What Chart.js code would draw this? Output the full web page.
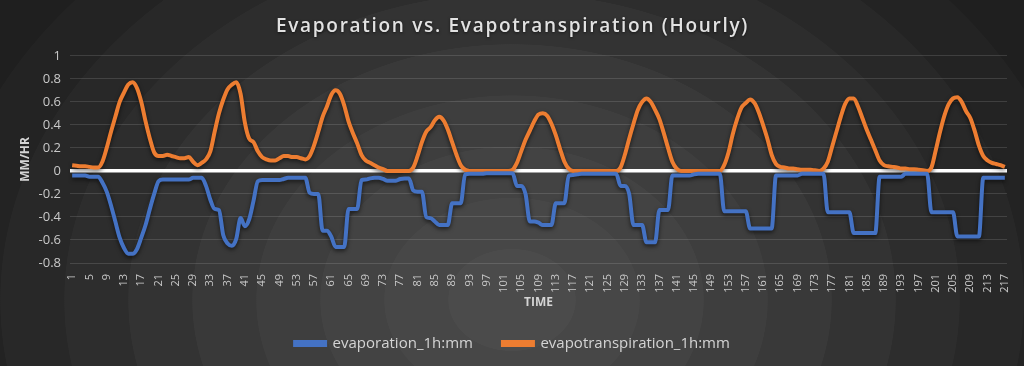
<!DOCTYPE html>
<html lang="en">
<head>
  <meta charset="UTF-8">
  <title>Evaporation vs. Evapotranspiration (Hourly)</title>
  <script src="https://cdn.jsdelivr.net/npm/chart.js"></script>
  <style>
    html, body { margin: 0; padding: 0; background: #262626; }
    #grafica { display: block; }
  </style>
</head>
<body>
  <canvas id="grafica" width="1024" height="366"></canvas>
  <script>
    // Horas (categorías del eje X)
    const horas = Array.from({ length: 217 }, (_, i) => String(i + 1));

    const evaporacion = [
      -0.04, -0.04, -0.04, -0.04, -0.05, -0.05, -0.05, -0.1, -0.18, -0.3,
      -0.44, -0.58, -0.67, -0.72, -0.72, -0.68, -0.58, -0.47, -0.33, -0.2,
      -0.09, -0.075, -0.075, -0.075, -0.075, -0.075, -0.075, -0.075, -0.06, -0.06,
      -0.06, -0.13, -0.25, -0.33, -0.34, -0.56, -0.63, -0.65, -0.59, -0.41,
      -0.48, -0.42, -0.26, -0.09, -0.08, -0.08, -0.08, -0.08, -0.08, -0.07,
      -0.06, -0.06, -0.06, -0.06, -0.06, -0.19, -0.2, -0.2, -0.52, -0.52,
      -0.57, -0.66, -0.66, -0.66, -0.33, -0.33, -0.33, -0.08, -0.075, -0.065,
      -0.06, -0.06, -0.07, -0.085, -0.085, -0.085, -0.07, -0.065, -0.065, -0.17,
      -0.18, -0.18, -0.4, -0.41, -0.44, -0.47, -0.47, -0.47, -0.28, -0.28,
      -0.28, -0.03, -0.025, -0.025, -0.025, -0.025, -0.02, -0.02, -0.02, -0.02,
      -0.02, -0.02, -0.02, -0.13, -0.13, -0.2, -0.44, -0.44, -0.45, -0.47,
      -0.47, -0.47, -0.28, -0.28, -0.28, -0.04, -0.035, -0.03, -0.025, -0.025,
      -0.025, -0.025, -0.025, -0.025, -0.025, -0.025, -0.025, -0.13, -0.13, -0.2,
      -0.47, -0.47, -0.47, -0.62, -0.62, -0.62, -0.34, -0.34, -0.34, -0.04,
      -0.04, -0.04, -0.04, -0.04, -0.03, -0.025, -0.025, -0.025, -0.025, -0.025,
      -0.025, -0.35, -0.35, -0.35, -0.35, -0.35, -0.35, -0.5, -0.5, -0.5,
      -0.5, -0.5, -0.5, -0.04, -0.04, -0.04, -0.04, -0.04, -0.04, -0.025,
      -0.025, -0.025, -0.025, -0.025, -0.025, -0.36, -0.36, -0.36, -0.36, -0.36,
      -0.36, -0.54, -0.54, -0.54, -0.54, -0.54, -0.54, -0.05, -0.05, -0.05,
      -0.05, -0.05, -0.05, -0.025, -0.025, -0.025, -0.025, -0.025, -0.025, -0.36,
      -0.36, -0.36, -0.36, -0.36, -0.36, -0.57, -0.57, -0.57, -0.57, -0.57,
      -0.57, -0.06, -0.06, -0.06, -0.06, -0.06, -0.06
    ];

    const evapotranspiracion = [
      0.05, 0.045, 0.04, 0.04, 0.035, 0.03, 0.03, 0.08, 0.2, 0.34,
      0.47, 0.6, 0.68, 0.75, 0.77, 0.72, 0.6, 0.43, 0.28, 0.16,
      0.13, 0.13, 0.14, 0.13, 0.12, 0.11, 0.11, 0.12, 0.08, 0.05,
      0.07, 0.1, 0.17, 0.34, 0.5, 0.62, 0.71, 0.75, 0.77, 0.67,
      0.42, 0.28, 0.25, 0.17, 0.12, 0.1, 0.09, 0.09, 0.11, 0.13,
      0.13, 0.12, 0.12, 0.11, 0.1, 0.13, 0.22, 0.34, 0.47, 0.56,
      0.66, 0.7, 0.67, 0.57, 0.43, 0.33, 0.24, 0.14, 0.09, 0.07,
      0.05, 0.03, 0.015, 0, 0, 0, 0, 0, 0, 0.03,
      0.13, 0.25, 0.34, 0.38, 0.44, 0.47, 0.44, 0.36, 0.25, 0.14,
      0.05, 0.01, 0, 0, 0, 0, 0, 0, 0, 0,
      0, 0, 0.01, 0.07, 0.17, 0.27, 0.35, 0.43, 0.49, 0.5,
      0.48, 0.41, 0.31, 0.19, 0.08, 0.02, 0, 0, 0, 0,
      0, 0, 0, 0, 0, 0, 0, 0.03, 0.14, 0.28,
      0.41, 0.53, 0.6, 0.63, 0.6, 0.53, 0.45, 0.33, 0.2, 0.08,
      0.02, 0, 0, 0, 0, 0, 0, 0, 0, 0,
      0, 0.05, 0.16, 0.32, 0.45, 0.55, 0.59, 0.62, 0.59, 0.51,
      0.4, 0.28, 0.14, 0.06, 0.035, 0.03, 0.02, 0.02, 0.015, 0.01,
      0.01, 0.01, 0.005, 0, 0.02, 0.08, 0.21, 0.34, 0.47, 0.58,
      0.63, 0.63, 0.56, 0.46, 0.36, 0.27, 0.18, 0.09, 0.05, 0.04,
      0.035, 0.03, 0.02, 0.02, 0.015, 0.015, 0.01, 0.005, 0, 0.03,
      0.18, 0.34, 0.48, 0.58, 0.63, 0.64, 0.6, 0.52, 0.46, 0.35,
      0.22, 0.13, 0.09, 0.07, 0.06, 0.05, 0.035
    ];

    const ticksY = [-0.8, -0.6, -0.4, -0.2, 0, 0.2, 0.4, 0.6, 0.8, 1];

    const colorTexto = "#c9c9c9";

    // Fondo oscuro con anillos concéntricos
    const fondo = {
      id: "fondo",
      beforeDraw(chart) {
        const ctx = chart.ctx;
        ctx.save();
        ctx.translate(512, 300);
        ctx.scale(1, 0.8);
        const g = ctx.createRadialGradient(0, 0, 0, 0, 0, 640);
        const bandas = ["#4b4b4b", "#474747", "#434343", "#3e3e3e", "#393939", "#333333", "#2d2d2d", "#282828", "#232323", "#1f1f1f"];
        bandas.forEach((c, i) => {
          g.addColorStop(i / bandas.length, c);
          g.addColorStop(Math.min(1, (i + 1) / bandas.length - 0.001), c);
        });
        ctx.fillStyle = g;
        ctx.fillRect(-600, -600, 1400, 1400);
        ctx.restore();
      }
    };

    // Sombra bajo las líneas
    const sombra = {
      id: "sombra",
      beforeDatasetsDraw(chart) {
        const ctx = chart.ctx;
        ctx.save();
        ctx.shadowColor = "rgba(0,0,0,0.6)";
        ctx.shadowBlur = 4;
        ctx.shadowOffsetY = 2;
      },
      afterDatasetsDraw(chart) {
        chart.ctx.restore();
      }
    };

    // Título con espaciado entre letras y sombra
    const tituloEspaciado = {
      id: "tituloEspaciado",
      afterLayout(chart) {
        const tb = chart.titleBlock;
        if (!tb || tb._espaciado) return;
        const original = tb.draw.bind(tb);
        tb.draw = function () {
          const ctx = chart.ctx;
          ctx.save();
          ctx.letterSpacing = "1.7px";
          ctx.shadowColor = "rgba(0,0,0,0.6)";
          ctx.shadowBlur = 3;
          ctx.shadowOffsetY = 1;
          original();
          ctx.restore();
        };
        tb._espaciado = true;
      }
    };

    const ctx = document.getElementById("grafica").getContext("2d");
    new Chart(ctx, {
      type: "line",
      data: {
        labels: horas,
        datasets: [
          {
            label: "evaporation_1h:mm",
            data: evaporacion,
            borderColor: "#4472C4",
            backgroundColor: "#4472C4",
            borderWidth: 4,
            pointRadius: 0,
            cubicInterpolationMode: "monotone"
          },
          {
            label: "evapotranspiration_1h:mm",
            data: evapotranspiracion,
            borderColor: "#ED7D31",
            backgroundColor: "#ED7D31",
            borderWidth: 4,
            pointRadius: 0,
            cubicInterpolationMode: "monotone"
          }
        ]
      },
      options: {
        responsive: false,
        animation: false,
        layout: { padding: { left: 18, right: 17, top: 0, bottom: 5 } },
        plugins: {
          title: {
            display: true,
            text: "Evaporation vs. Evapotranspiration (Hourly)",
            color: "#e2e2e2",
            font: { family: "Open Sans", size: 19, weight: "600" },
            padding: { top: 15, bottom: 18 }
          },
          legend: {
            position: "bottom",
            labels: {
              color: "#d4d4d4",
              font: { family: "Open Sans", size: 15 },
              boxWidth: 30,
              boxHeight: 3,
              padding: 30
            }
          },
          tooltip: { enabled: false }
        },
        scales: {
          x: {
            offset: true,
            grid: { display: false },
            border: { display: false },
            afterFit: (s) => { s.height = 43; },
            ticks: {
              autoSkip: false,
              maxRotation: 90,
              minRotation: 90,
              color: colorTexto,
              font: { family: "Open Sans", size: 11 },
              callback: (v, i) => (i % 4 === 0 ? horas[i] : "")
            },
            title: {
              display: true,
              text: "TIME",
              color: "#d4d4d4",
              font: { family: "Open Sans", size: 12, weight: "bold" },
              padding: { top: 0, bottom: -4 }
            }
          },
          y: {
            min: -0.8,
            max: 1,
            afterBuildTicks: (s) => { s.ticks = ticksY.map((v) => ({ value: v })); },
            afterFit: (s) => { s.width = 52; },
            border: { display: false },
            grid: {
              color: (c) => (c.tick && c.tick.value === 0 ? "#ffffff" : "rgba(255,255,255,0.13)"),
              lineWidth: (c) => (c.tick && c.tick.value === 0 ? 3.5 : 1),
              drawTicks: false
            },
            ticks: {
              color: colorTexto,
              font: { family: "Open Sans", size: 13 },
              padding: 9,
              callback: (v) => String(v)
            },
            title: {
              display: true,
              text: "MM/HR",
              color: "#d4d4d4",
              font: { family: "Open Sans", size: 12, weight: "bold" },
              padding: { top: 0, bottom: 4 }
            }
          }
        }
      },
      plugins: [fondo, sombra, tituloEspaciado]
    });
  </script>
</body>
</html>
